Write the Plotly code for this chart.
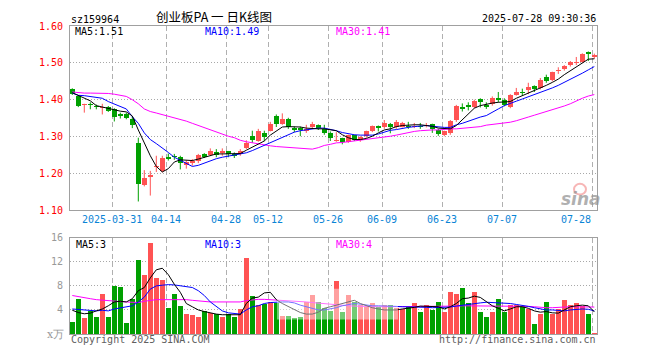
import plotly.graph_objects as go

# ---------------- data ----------------
dates = [
    "2025-03-20", "2025-03-21", "2025-03-24", "2025-03-25", "2025-03-26", "2025-03-27", "2025-03-28", "2025-03-31",
    "2025-04-01", "2025-04-02", "2025-04-03", "2025-04-07", "2025-04-08", "2025-04-09", "2025-04-10", "2025-04-11",
    "2025-04-14", "2025-04-15", "2025-04-16", "2025-04-17", "2025-04-18", "2025-04-21", "2025-04-22", "2025-04-23",
    "2025-04-24", "2025-04-25", "2025-04-28", "2025-04-29", "2025-04-30",
    "2025-05-06", "2025-05-07", "2025-05-08", "2025-05-09", "2025-05-12", "2025-05-13", "2025-05-14", "2025-05-15",
    "2025-05-16", "2025-05-19", "2025-05-20", "2025-05-21", "2025-05-22", "2025-05-23", "2025-05-26", "2025-05-27",
    "2025-05-28", "2025-05-29", "2025-05-30",
    "2025-06-03", "2025-06-04", "2025-06-05", "2025-06-06", "2025-06-09", "2025-06-10", "2025-06-11", "2025-06-12",
    "2025-06-13", "2025-06-16", "2025-06-17", "2025-06-18", "2025-06-19", "2025-06-20", "2025-06-23", "2025-06-24",
    "2025-06-25", "2025-06-26", "2025-06-27", "2025-06-30",
    "2025-07-01", "2025-07-02", "2025-07-03", "2025-07-04", "2025-07-07", "2025-07-08", "2025-07-09", "2025-07-10",
    "2025-07-11", "2025-07-14", "2025-07-15", "2025-07-16", "2025-07-17", "2025-07-18", "2025-07-21", "2025-07-22",
    "2025-07-23", "2025-07-24", "2025-07-25", "2025-07-28",
]

opens = [
    1.430, 1.409, 1.386, 1.388, 1.382, 1.377, 1.379, 1.375, 1.360, 1.360, 1.347, 1.282, 1.168, 1.191, 1.217, 1.207,
    1.244, 1.248, 1.244, 1.224, 1.228, 1.235, 1.254, 1.251, 1.259, 1.256, 1.261, 1.253, 1.253, 1.268, 1.301, 1.288,
    1.309, 1.316, 1.356, 1.333, 1.349, 1.323, 1.323, 1.316, 1.325, 1.332, 1.321, 1.309, 1.288, 1.295, 1.286, 1.304,
    1.291, 1.301, 1.314, 1.330, 1.327, 1.335, 1.325, 1.327, 1.329, 1.325, 1.330, 1.328, 1.333, 1.318, 1.304, 1.310,
    1.345, 1.379, 1.386, 1.380, 1.402, 1.386, 1.389, 1.406, 1.400, 1.380, 1.413, 1.421, 1.426, 1.437, 1.431, 1.461,
    1.453, 1.477, 1.483, 1.493, 1.500, 1.503, 1.529, 1.516,
]
highs = [
    1.431, 1.411, 1.389, 1.393, 1.387, 1.389, 1.383, 1.377, 1.365, 1.365, 1.354, 1.297, 1.209, 1.207, 1.248, 1.248,
    1.254, 1.253, 1.248, 1.235, 1.239, 1.253, 1.255, 1.268, 1.266, 1.268, 1.261, 1.257, 1.266, 1.290, 1.316, 1.321,
    1.316, 1.340, 1.360, 1.363, 1.351, 1.327, 1.327, 1.332, 1.340, 1.333, 1.332, 1.314, 1.312, 1.297, 1.305, 1.305,
    1.301, 1.316, 1.330, 1.330, 1.345, 1.337, 1.345, 1.340, 1.340, 1.337, 1.337, 1.337, 1.335, 1.321, 1.316, 1.345,
    1.386, 1.390, 1.393, 1.400, 1.404, 1.393, 1.409, 1.421, 1.404, 1.415, 1.432, 1.430, 1.446, 1.439, 1.459, 1.468,
    1.476, 1.488, 1.494, 1.505, 1.516, 1.526, 1.531, 1.525,
]
lows = [
    1.413, 1.380, 1.365, 1.374, 1.374, 1.360, 1.367, 1.341, 1.349, 1.347, 1.323, 1.124, 1.165, 1.140, 1.204, 1.203,
    1.235, 1.237, 1.211, 1.213, 1.221, 1.228, 1.242, 1.248, 1.244, 1.248, 1.244, 1.242, 1.248, 1.266, 1.283, 1.286,
    1.288, 1.314, 1.326, 1.332, 1.321, 1.312, 1.301, 1.310, 1.323, 1.318, 1.305, 1.288, 1.286, 1.279, 1.283, 1.288,
    1.286, 1.297, 1.312, 1.314, 1.321, 1.309, 1.321, 1.325, 1.321, 1.323, 1.321, 1.325, 1.310, 1.302, 1.301, 1.305,
    1.340, 1.368, 1.371, 1.377, 1.379, 1.375, 1.384, 1.393, 1.382, 1.377, 1.411, 1.411, 1.415, 1.421, 1.428, 1.446,
    1.450, 1.470, 1.479, 1.490, 1.494, 1.500, 1.505, 1.511,
]
closes = [
    1.415, 1.382, 1.389, 1.386, 1.380, 1.379, 1.370, 1.354, 1.356, 1.351, 1.332, 1.172, 1.189, 1.196, 1.221, 1.241,
    1.240, 1.244, 1.228, 1.230, 1.233, 1.251, 1.246, 1.261, 1.251, 1.260, 1.253, 1.248, 1.260, 1.283, 1.290, 1.316,
    1.300, 1.335, 1.333, 1.349, 1.325, 1.318, 1.319, 1.321, 1.335, 1.323, 1.309, 1.295, 1.291, 1.286, 1.304, 1.292,
    1.299, 1.314, 1.328, 1.323, 1.336, 1.325, 1.339, 1.337, 1.325, 1.330, 1.326, 1.332, 1.321, 1.307, 1.314, 1.342,
    1.382, 1.375, 1.381, 1.397, 1.395, 1.381, 1.406, 1.400, 1.386, 1.413, 1.422, 1.418, 1.435, 1.430, 1.453, 1.450,
    1.474, 1.481, 1.491, 1.502, 1.503, 1.525, 1.525, 1.521,
]

ma5 = [
    1.419, 1.412, 1.406, 1.397, 1.384, 1.380, 1.375, 1.371, 1.369, 1.367, 1.356, 1.318, 1.283, 1.248, 1.219, 1.204,
    1.213, 1.231, 1.237, 1.235, 1.235, 1.239, 1.244, 1.248, 1.253, 1.253, 1.253, 1.253, 1.254, 1.263, 1.272, 1.279,
    1.288, 1.304, 1.316, 1.326, 1.327, 1.327, 1.326, 1.323, 1.321, 1.321, 1.321, 1.319, 1.316, 1.305, 1.297, 1.292,
    1.292, 1.295, 1.301, 1.310, 1.318, 1.321, 1.327, 1.330, 1.332, 1.332, 1.332, 1.331, 1.328, 1.323, 1.321, 1.321,
    1.330, 1.346, 1.360, 1.377, 1.384, 1.388, 1.391, 1.393, 1.393, 1.395, 1.404, 1.411, 1.418, 1.423, 1.430, 1.439,
    1.447, 1.456, 1.468, 1.479, 1.490, 1.501, 1.510, 1.511,
]
ma10 = [
    1.418, 1.412, 1.411, 1.409, 1.406, 1.404, 1.395, 1.389, 1.383, 1.375, 1.354, 1.336, 1.310, 1.292, 1.281, 1.270,
    1.257, 1.244, 1.235, 1.228, 1.219, 1.222, 1.228, 1.235, 1.240, 1.244, 1.247, 1.250, 1.253, 1.256, 1.262, 1.269,
    1.277, 1.283, 1.291, 1.298, 1.305, 1.312, 1.316, 1.319, 1.321, 1.323, 1.323, 1.320, 1.316, 1.311, 1.307, 1.305,
    1.304, 1.303, 1.304, 1.307, 1.312, 1.317, 1.319, 1.323, 1.325, 1.327, 1.329, 1.330, 1.328, 1.326, 1.325, 1.325,
    1.332, 1.336, 1.342, 1.349, 1.353, 1.357, 1.365, 1.375, 1.384, 1.389, 1.396, 1.402, 1.408, 1.412, 1.419, 1.426,
    1.432, 1.439, 1.447, 1.454, 1.463, 1.472, 1.481, 1.490,
]
ma30 = [
    1.421, 1.419, 1.418, 1.418, 1.418, 1.418, 1.417, 1.415, 1.412, 1.409, 1.400, 1.389, 1.375, 1.368, 1.364, 1.360,
    1.355, 1.351, 1.347, 1.342, 1.336, 1.330, 1.325, 1.319, 1.312, 1.307, 1.301, 1.297, 1.290, 1.286, 1.283, 1.281,
    1.276, 1.275, 1.273, 1.272, 1.270, 1.269, 1.267, 1.266, 1.266, 1.270, 1.276, 1.279, 1.283, 1.284, 1.286, 1.288,
    1.290, 1.291, 1.293, 1.296, 1.298, 1.301, 1.304, 1.308, 1.311, 1.314, 1.316, 1.318, 1.318, 1.318, 1.320, 1.321,
    1.321, 1.322, 1.323, 1.325, 1.327, 1.331, 1.333, 1.334, 1.337, 1.339, 1.343, 1.347, 1.353, 1.358, 1.363, 1.367,
    1.371, 1.377, 1.383, 1.389, 1.397, 1.404, 1.410, 1.414,
]

volumes = [
    2.0, 5.9, 2.6, 3.8, 2.8, 6.7, 2.8, 8.0, 7.8, 1.9, 5.9, 12.3, 9.8, 15.2, 9.3, 9.0,
    4.3, 6.6, 4.6, 3.4, 3.2, 2.9, 3.8, 3.5, 3.4, 2.9, 3.3, 2.8, 4.2, 12.6, 6.4, 4.8,
    5.0, 5.3, 5.1, 3.0, 3.0, 2.7, 2.9, 5.3, 6.5, 5.4, 4.3, 3.8, 8.8, 3.7, 6.5, 5.4,
    4.8, 4.5, 5.1, 4.5, 4.9, 4.8, 4.4, 4.2, 4.6, 5.1, 3.7, 4.9, 4.0, 5.4, 3.6, 6.9,
    6.6, 7.7, 5.1, 6.9, 3.6, 2.9, 3.6, 5.8, 3.7, 4.9, 4.8, 4.6, 4.2, 1.6, 3.4, 5.3,
    3.4, 4.2, 5.6, 4.85, 5.2, 4.7, 3.4, 0.16,
]
vol_ma5 = [
    3.95, 3.57, 3.36, 3.47, 3.84, 4.16, 4.69, 5.33, 5.44, 5.33, 5.87, 7.20, 7.73, 9.33, 10.67, 10.93,
    9.87, 8.27, 6.93, 5.07, 4.53, 4.00, 3.73, 3.47, 3.31, 3.20, 3.20, 3.09, 3.20, 5.07, 5.97, 6.13,
    6.83, 6.93, 5.71, 5.07, 4.53, 4.00, 3.57, 3.31, 3.31, 3.63, 4.27, 4.53, 4.80, 5.07, 5.33, 5.60,
    5.07, 4.69, 4.37, 4.16, 4.00, 4.00, 4.00, 4.16, 4.27, 4.43, 4.64, 4.64, 4.53, 4.53, 4.16, 4.53,
    5.07, 5.87, 5.97, 6.29, 6.08, 5.33, 4.69, 4.27, 3.84, 4.16, 4.53, 4.53, 4.27, 3.84, 3.63, 3.73,
    3.52, 3.47, 4.00, 4.53, 4.69, 4.80, 4.69, 3.68,
]
vol_ma10 = [
    4.16, 4.05, 3.95, 3.84, 3.84, 3.95, 3.84, 4.16, 4.37, 4.53, 4.69, 5.33, 6.13, 7.47, 8.00, 8.11,
    8.21, 8.16, 8.00, 7.89, 7.73, 7.20, 6.40, 5.33, 4.53, 3.84, 3.52, 3.36, 3.31, 4.00, 4.53, 4.69,
    5.07, 5.23, 5.33, 5.33, 5.33, 5.17, 4.80, 4.53, 4.16, 4.00, 4.00, 4.16, 4.37, 4.69, 4.91, 5.07,
    4.96, 4.80, 4.69, 4.69, 4.69, 4.64, 4.59, 4.53, 4.53, 4.53, 4.48, 4.43, 4.37, 4.37, 4.37, 4.48,
    4.64, 4.80, 4.91, 5.07, 5.17, 5.28, 5.23, 5.17, 5.23, 5.07, 4.91, 4.80, 4.59, 4.37, 4.16, 4.00,
    4.00, 3.95, 3.84, 4.00, 4.11, 4.16, 4.11, 3.84,
]
vol_ma30 = [
    6.40, 6.19, 6.03, 5.87, 5.71, 5.60, 5.49, 5.44, 5.39, 5.33, 5.23, 5.23, 5.44, 5.60, 5.71, 5.71,
    5.71, 5.71, 5.76, 5.71, 5.60, 5.49, 5.44, 5.33, 5.33, 5.33, 5.28, 5.28, 5.33, 5.55, 5.71, 5.76,
    5.76, 5.71, 5.65, 5.60, 5.49, 5.44, 5.39, 5.33, 5.23, 5.12, 5.01, 4.91, 4.80, 4.75, 4.69, 4.64,
    4.59, 4.53, 4.53, 4.53, 4.53, 4.53, 4.53, 4.53, 4.53, 4.53, 4.53, 4.53, 4.53, 4.53, 4.53, 4.59,
    4.64, 4.69, 4.69, 4.69, 4.69, 4.69, 4.69, 4.69, 4.64, 4.64, 4.64, 4.64, 4.59, 4.53, 4.43, 4.37,
    4.37, 4.37, 4.48, 4.53, 4.53, 4.53, 4.53, 4.48,
]

tick_dates = ["2025-03-31", "2025-04-14", "2025-04-28", "2025-05-12", "2025-05-26",
              "2025-06-09", "2025-06-23", "2025-07-07", "2025-07-28"]
tick_labels = ["2025-03-31", "04-14", "04-28", "05-12", "05-26", "06-09", "06-23", "07-07", "07-28"]
price_ticks = [1.10, 1.20, 1.30, 1.40, 1.50, 1.60]
vol_ticks = [4, 8, 12, 16]

# ---------------- styling / geometry ----------------
RED = "#ff5353"
GREEN = "#00a000"
MONO = "DejaVu Sans Mono"
OFF = 8                      # default page (body) margin of the html page
W, H = 644, 344
L, R, T, B = 62, 55, 12, 12
PW, PH = W - L - R, H - T - B


def px_x(px):
    """page pixel x -> paper coordinate"""
    return (px - OFF - L) / PW


def px_y(py):
    """page pixel y -> paper coordinate"""
    return (H - B - (py - OFF)) / PH


n = len(dates)
idx = list(range(n))
colors = [RED if c >= o else GREEN for o, c in zip(opens, closes)]

fig = go.Figure()

# wicks
for col in (RED, GREEN):
    xs, ys = [], []
    for i in idx:
        if colors[i] == col:
            xs += [i, i, None]
            ys += [lows[i], highs[i], None]
    fig.add_trace(go.Scatter(x=xs, y=ys, mode="lines", line=dict(color=col, width=1),
                             hoverinfo="skip", xaxis="x", yaxis="y"))

# bodies
fig.add_trace(go.Bar(
    x=idx,
    y=[max(abs(c - o), 0.0028) for o, c in zip(opens, closes)],
    base=[min(o, c) for o, c in zip(opens, closes)],
    width=0.82, marker=dict(color=colors, line=dict(width=0)),
    xaxis="x", yaxis="y", hoverinfo="skip"))

for vals, col in ((ma30, "#ff00ff"), (ma10, "#0000ff"), (ma5, "#000000")):
    fig.add_trace(go.Scatter(x=idx, y=vals, mode="lines", line=dict(color=col, width=1),
                             xaxis="x", yaxis="y", hoverinfo="skip"))

# volume
fig.add_trace(go.Bar(x=idx, y=volumes, width=0.8, marker=dict(color=colors, line=dict(width=0)),
                     xaxis="x2", yaxis="y2", hoverinfo="skip"))
for vals, col in ((vol_ma30, "#ff00ff"), (vol_ma10, "#0000ff"), (vol_ma5, "#000000")):
    fig.add_trace(go.Scatter(x=idx, y=vals, mode="lines", line=dict(color=col, width=1),
                             xaxis="x2", yaxis="y2", hoverinfo="skip"))

grid_x = [dates.index(d) - 0.33 for d in tick_dates]
xrange = [-(72.3 - OFF - L) / 6.0, (n - 1) + (597 - 594.3) / 6.0]

main_bottom = px_y(211.5)
vol_top = px_y(240)

common_x = dict(range=xrange, tickmode="array", tickvals=grid_x, showticklabels=False,
                showgrid=True, gridcolor="#b0b0b0", griddash="5px,3px", gridwidth=1,
                zeroline=False, showline=True, mirror=True, linecolor="#a0a0a0", linewidth=1,
                ticks="", fixedrange=True)

fig.update_layout(
    width=W, height=H,
    margin=dict(l=L, r=R, t=T, b=B, pad=0),
    paper_bgcolor="white", plot_bgcolor="white",
    showlegend=False, bargap=0, barmode="overlay",
    hovermode=False,
    xaxis=dict(domain=[0, 1], anchor="y", **common_x),
    xaxis2=dict(domain=[0, 1], anchor="y2", matches="x", **common_x),
    yaxis=dict(domain=[main_bottom, 1], anchor="x", range=[1.10, 1.60], tickmode="array",
               tickvals=price_ticks, ticktext=["%.2f" % v for v in price_ticks],
               tickfont=dict(family=MONO, size=10, color="#ff0000"),
               showgrid=True, gridcolor="#a8a8a8", griddash="1px,2px", gridwidth=1,
               zeroline=False, showline=True, mirror=True, linecolor="#a0a0a0", linewidth=1,
               ticks="", ticklabelstandoff=4, fixedrange=True),
    yaxis2=dict(domain=[0, vol_top], anchor="x2", range=[0, 16], tickmode="array",
                tickvals=vol_ticks, ticktext=[str(v) for v in vol_ticks],
                tickfont=dict(family=MONO, size=10, color="#999999"),
                showgrid=True, gridcolor="#a8a8a8", griddash="1px,2px", gridwidth=1,
                zeroline=False, showline=True, mirror=True, linecolor="#a0a0a0", linewidth=1,
                ticks="", ticklabelstandoff=4, fixedrange=True),
)

ann = []


def txt(text, x, y, color="#000000", size=10, xanchor="left", family=MONO, xref="paper"):
    ann.append(dict(text=text, x=x, y=y, xref=xref, yref="paper", xanchor=xanchor, yanchor="middle",
                    showarrow=False, font=dict(family=family, size=size, color=color), borderpad=0))


# header
txt("sz159964", px_x(70), px_y(13))
txt("创业板PA 一 日K线图", px_x(213.5), px_y(10.5), size=12.5, xanchor="center",
    family="Noto Sans CJK SC")
txt("2025-07-28 09:30:36", px_x(597), px_y(12.5), xanchor="right")

# MA legends
txt("MA5:%.2f" % ma5[-1], px_x(74), px_y(26), "#000000")
txt("MA10:%.2f" % ma10[-1], px_x(204), px_y(26), "#0000ff")
txt("MA30:%.2f" % ma30[-1], px_x(334.5), px_y(26), "#ff00ff")
txt("MA5:%d" % int(vol_ma5[-1]), px_x(75), px_y(246.5), "#000000")
txt("MA10:%d" % int(vol_ma10[-1]), px_x(204), px_y(246.5), "#0000ff")
txt("MA30:%d" % int(vol_ma30[-1]), px_x(334.5), px_y(246.5), "#ff00ff")

# date labels
for k, (g, lab) in enumerate(zip(grid_x, tick_labels)):
    last = k == len(tick_labels) - 1
    txt(lab, g, px_y(221.5), "#0a84d6", xanchor="right" if last else "center", xref="x")

# footer
txt("Copyright 2025 SINA.COM", px_x(70), px_y(346), "#606060")
txt("http://finance.sina.com.cn", px_x(597), px_y(346), "#606060", xanchor="right")
txt("x万", px_x(55), px_y(341), "#999999", size=11, xanchor="center", family="DejaVu Serif")

# sina watermark
txt("<b><i>sina</i></b>", px_x(581), px_y(200), "rgba(150,150,150,0.75)", size=17,
    xanchor="center", family="DejaVu Sans")
fig.add_shape(type="circle", xref="paper", yref="paper", x0=px_x(574), x1=px_x(586),
              y0=px_y(195), y1=px_y(184), line=dict(color="rgba(240,110,110,0.5)", width=2),
              fillcolor="rgba(255,255,255,0)", layer="above")

fig.update_layout(annotations=ann)

# faint watermark band across the volume panel
fig.add_shape(type="rect", xref="paper", yref="paper", x0=px_x(277), x1=px_x(398),
              y0=px_y(325), y1=px_y(293), fillcolor="rgba(255,255,255,0.45)",
              line=dict(width=0), layer="above")

fig.write_html("out.html", include_plotlyjs=True, config={"staticPlot": True})
